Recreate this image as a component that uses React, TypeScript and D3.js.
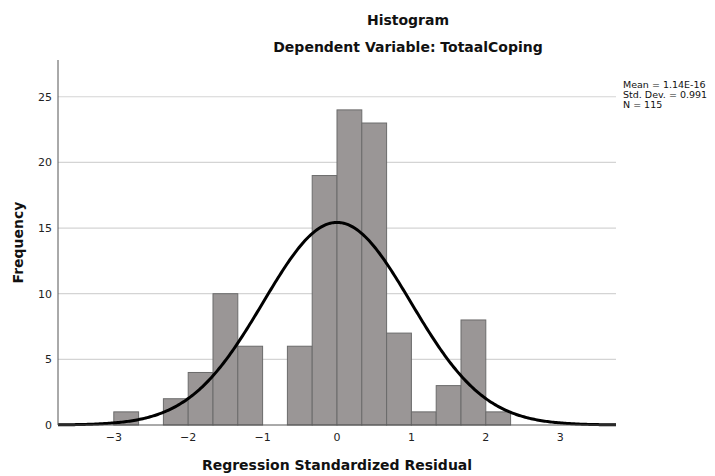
import React, { useEffect, useRef } from 'react';
import * as d3 from 'd3';

// bin edges (width 1/3) and counts
const binStarts = [-3, -8 / 3, -7 / 3, -2, -5 / 3, -4 / 3, -1, -2 / 3, -1 / 3, 0, 1 / 3, 2 / 3, 1, 4 / 3, 5 / 3, 2];
const counts = [1, 0, 2, 4, 10, 6, 0, 6, 19, 24, 23, 7, 1, 3, 8, 1];
const binWidth = 1 / 3;

const xTicks = [-3, -2, -1, 0, 1, 2, 3];
const yTicks = [0, 5, 10, 15, 20, 25];

const mean = 1.14e-16;
const sd = 0.991;
const n = 115;
const statLines = ['Mean = 1.14E-16', 'Std. Dev. = 0.991', 'N = 115'];

const App = () => {
  const ref = useRef<SVGSVGElement>(null);

  useEffect(() => {
    const svg = d3.select(ref.current);
    svg.selectAll('*').remove();

    const width = 715;
    const height = 476;
    const margin = { top: 60, right: 99, bottom: 51, left: 58 };
    const font = 'DejaVu Sans, sans-serif';

    svg.attr('width', width).attr('height', height);

    const x = d3.scaleLinear().domain([-3.75, 3.75]).range([margin.left, width - margin.right]);
    const y = d3.scaleLinear().domain([0, 27.8]).range([height - margin.bottom, margin.top]);

    // gridlines
    svg
      .append('g')
      .selectAll('line')
      .data(yTicks.filter(d => d > 0))
      .enter()
      .append('line')
      .attr('x1', margin.left)
      .attr('x2', width - margin.right)
      .attr('y1', d => y(d))
      .attr('y2', d => y(d))
      .attr('stroke', '#d4d4d4')
      .attr('stroke-width', 1.2);

    // bars
    const data = binStarts.map((s, i) => ({ s, c: counts[i] })).filter(d => d.c > 0);
    svg
      .append('g')
      .selectAll('rect')
      .data(data)
      .enter()
      .append('rect')
      .attr('x', d => x(d.s))
      .attr('y', d => y(d.c))
      .attr('width', d => x(d.s + binWidth) - x(d.s))
      .attr('height', d => y(0) - y(d.c))
      .attr('fill', '#9a9696')
      .attr('stroke', '#6b6b6b')
      .attr('stroke-width', 1);

    // normal curve
    const pts = d3.range(-3.75, 3.7501, 0.02);
    const pdf = (v: number) =>
      (n * binWidth) / (sd * Math.sqrt(2 * Math.PI)) * Math.exp(-((v - mean) ** 2) / (2 * sd * sd));
    const line = d3
      .line<number>()
      .x(d => x(d))
      .y(d => y(pdf(d)));
    svg
      .append('path')
      .datum(pts)
      .attr('fill', 'none')
      .attr('stroke', '#000')
      .attr('stroke-width', 3)
      .attr('d', line);

    // axes
    svg
      .append('line')
      .attr('x1', margin.left)
      .attr('x2', margin.left)
      .attr('y1', margin.top)
      .attr('y2', y(0))
      .attr('stroke', '#555');
    svg
      .append('line')
      .attr('x1', margin.left)
      .attr('x2', width - margin.right)
      .attr('y1', y(0))
      .attr('y2', y(0))
      .attr('stroke', '#555');

    svg
      .append('g')
      .selectAll('text')
      .data(yTicks)
      .enter()
      .append('text')
      .attr('x', margin.left - 6)
      .attr('y', d => y(d) + 4)
      .attr('text-anchor', 'end')
      .style('font-family', font)
      .style('font-size', '11px')
      .style('fill', '#222')
      .text(d => d);

    svg
      .append('g')
      .selectAll('text')
      .data(xTicks)
      .enter()
      .append('text')
      .attr('x', d => x(d))
      .attr('y', y(0) + 16)
      .attr('text-anchor', 'middle')
      .style('font-family', font)
      .style('font-size', '11px')
      .style('fill', '#222')
      .text(d => (d < 0 ? '\u2212' + Math.abs(d) : String(d)));

    // titles
    const bold = (t: string, tx: number, ty: number, size: number) =>
      svg
        .append('text')
        .attr('x', tx)
        .attr('y', ty)
        .attr('text-anchor', 'middle')
        .style('font-family', font)
        .style('font-weight', 'bold')
        .style('font-size', size + 'px')
        .style('fill', '#111')
        .text(t);

    bold('Histogram', 408, 25, 14);
    bold('Dependent Variable: TotaalCoping', 408, 52, 14);
    bold('Regression Standardized Residual', x(0), 470, 14);
    bold('Frequency', 0, 0, 14).attr('transform', `translate(23,${(margin.top + y(0)) / 2}) rotate(-90)`);

    // stats box
    svg
      .append('g')
      .selectAll('text')
      .data(statLines)
      .enter()
      .append('text')
      .attr('x', 623)
      .attr('y', (d, i) => 88 + i * 10)
      .style('font-family', font)
      .style('font-size', '9.5px')
      .style('fill', '#111')
      .text(d => d);
  }, []);

  return <svg ref={ref} style={{ position: 'absolute', left: 0, top: 0 }}></svg>;
};

export default App;
